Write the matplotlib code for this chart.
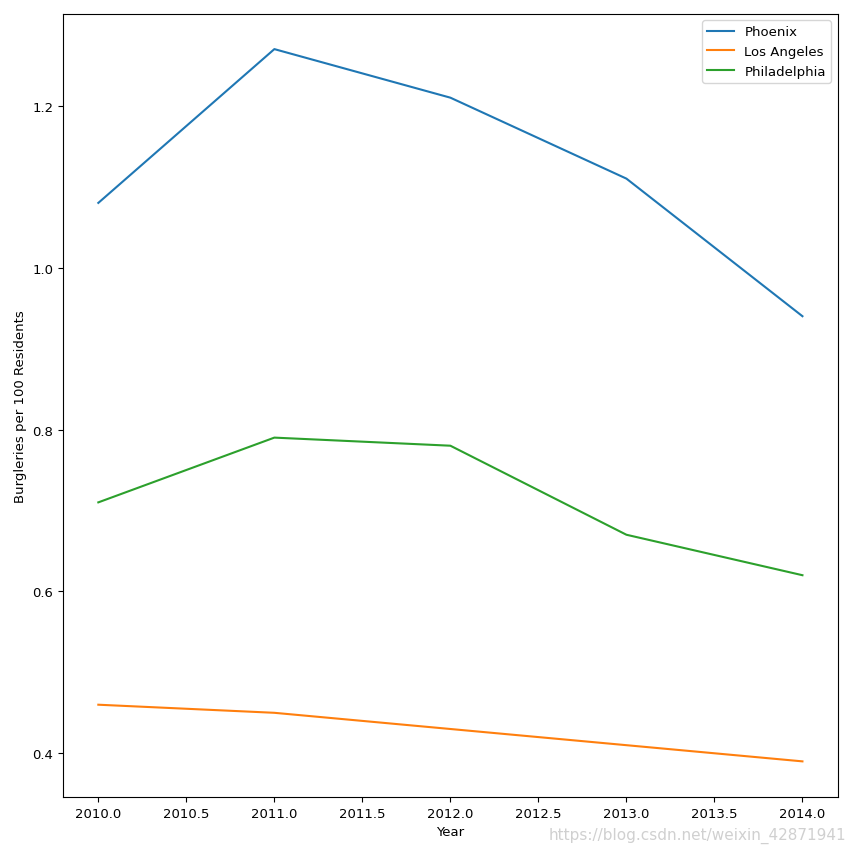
import matplotlib
matplotlib.use('Agg')
import matplotlib.pyplot as plt

# data
years = [2010, 2011, 2012, 2013, 2014]
phoenix = [1.08, 1.27, 1.21, 1.11, 0.94]
los_angeles = [0.46, 0.45, 0.43, 0.41, 0.39]
philadelphia = [0.71, 0.79, 0.78, 0.67, 0.62]

plt.rcParams['font.size'] = 9.5

fig = plt.figure(figsize=(8.53, 8.53), dpi=100)
ax = fig.add_axes([0.074, 0.0645, 0.908, 0.9185])

ax.plot(years, phoenix, label='Phoenix')
ax.plot(years, los_angeles, label='Los Angeles')
ax.plot(years, philadelphia, label='Philadelphia')

ax.set_xlabel('Year')
ax.set_ylabel('Burgleries per 100 Residents')
ax.legend(loc='upper right')

# watermark in the corner
fig.text(0.992, 0.01, 'https://blog.csdn.net/weixin_42871941', ha='right', va='bottom',
         color='#d0d0d0', fontsize=11)

fig.savefig('out.png', dpi=100)
